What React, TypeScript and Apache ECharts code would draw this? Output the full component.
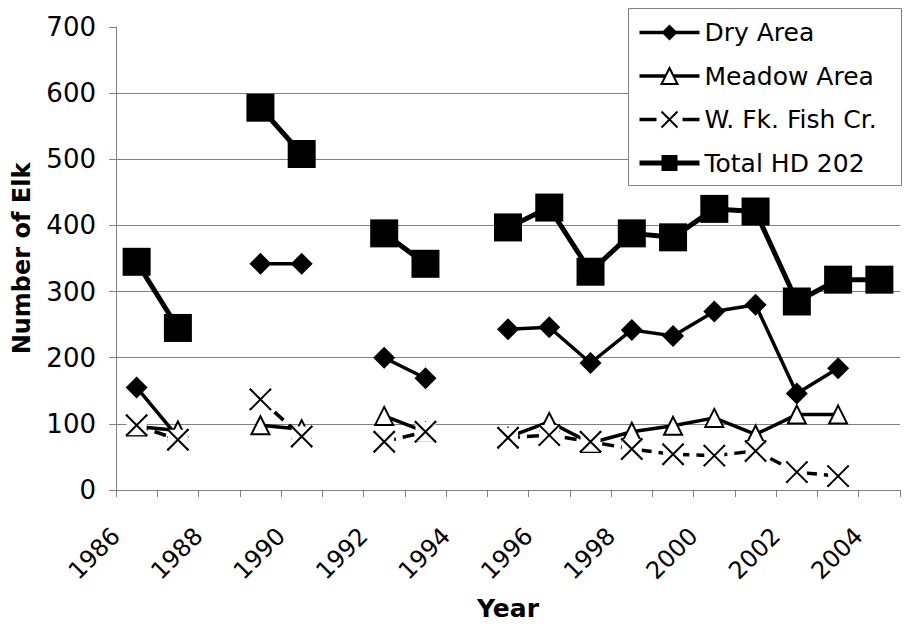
import React, { useEffect, useRef } from "react";
import * as echarts from "echarts";

// Elk counts by survey year for hunting district 202 and its sub-areas.
const years = [
  1986, 1987, 1988, 1989, 1990, 1991, 1992, 1993, 1994, 1995, 1996, 1997,
  1998, 1999, 2000, 2001, 2002, 2003, 2004,
];
const dryArea = [155, 80, null, 342, 342, null, 200, 169, null, 243, 246, 192, 242, 233, 270, 280, 146, 184, null];
const meadowArea = [96, 90, null, 98, 92, null, 112, 88, null, 80, 103, 71, 88, 97, 109, 84, 114, 114, null];
const wFkFishCr = [98, 76, null, 137, 81, null, 73, 88, null, 79, 83, 73, 62, 54, 52, 59, 27, 21, null];
const totalHD202 = [345, 245, null, 578, 508, null, 388, 342, null, 397, 427, 330, 388, 382, 425, 421, 285, 318, 318];

// Labelled years on the horizontal axis and values on the vertical axis.
const xTickLabels = [1986, 1988, 1990, 1992, 1994, 1996, 1998, 2000, 2002, 2004];
const yTickValues = [0, 100, 200, 300, 400, 500, 600, 700];

const seriesNames = ["Dry Area", "Meadow Area", "W. Fk. Fish Cr.", "Total HD 202"];

const FONT = "'DejaVu Sans', 'Liberation Sans', sans-serif";
const GRAY = "#808080";
const X_MARK = "path://M0,0L20,20M20,0L0,20";

// Each annual count sits in the middle of its year on the axis.
const yearPairs = (vals: (number | null)[]) =>
  years.map((yr, i) => [yr + 0.5, vals[i]]);

export default function App() {
  const ref = useRef<HTMLDivElement>(null);

  useEffect(() => {
    document.body.style.margin = "0";
    if (!ref.current) return;
    const chart = echarts.init(ref.current, undefined, { renderer: "svg" });

    const yStep = yTickValues[1] - yTickValues[0];

    chart.setOption({
      animation: false,
      backgroundColor: "#fff",
      grid: { left: 116, right: 7, top: 27, bottom: 145 },
      xAxis: {
        type: "value",
        min: years[0],
        max: years[years.length - 1] + 1,
        interval: 1,
        name: "Year",
        nameLocation: "middle",
        nameGap: 106,
        nameTextStyle: { fontFamily: FONT, fontSize: 25, fontWeight: "bold", color: "#000" },
        axisLine: { show: true, onZero: false, lineStyle: { color: GRAY, width: 1 } },
        axisTick: { show: true, inside: false, length: 7, lineStyle: { color: GRAY, width: 1 } },
        axisLabel: {
          rotate: 45,
          margin: 42,
          fontFamily: FONT,
          fontSize: 24,
          color: "#000",
          hideOverlap: false,
          formatter: (v: number) => (xTickLabels.includes(v) ? String(v) : ""),
        },
        splitLine: { show: false },
      },
      yAxis: {
        type: "value",
        min: yTickValues[0],
        max: yTickValues[yTickValues.length - 1],
        interval: yStep,
        name: "Number of Elk",
        nameLocation: "middle",
        nameRotate: 90,
        nameGap: 82,
        nameTextStyle: { fontFamily: FONT, fontSize: 24, fontWeight: "bold", color: "#000" },
        axisLine: { show: true, lineStyle: { color: GRAY, width: 1 } },
        axisTick: { show: true, inside: false, length: 7, lineStyle: { color: GRAY, width: 1 } },
        axisLabel: { fontFamily: FONT, fontSize: 26, color: "#000", margin: 20 },
        splitLine: { show: true, showMaxLine: false, lineStyle: { color: GRAY, width: 1 } },
      },
      legend: {
        data: [
          seriesNames[0],
          seriesNames[1],
          { name: seriesNames[2], lineStyle: { type: [17, 26, 17] } },
          seriesNames[3],
        ],
        orient: "vertical",
        left: 637,
        top: 20,
        padding: 0,
        itemWidth: 60,
        itemHeight: 20,
        itemGap: 18.5,
        selectedMode: false,
        z: 6,
        lineStyle: { width: "inherit" },
        textStyle: { fontFamily: FONT, fontSize: 25, color: "#000" },
      },
      graphic: [
        {
          type: "rect",
          z: 5,
          shape: { x: 628.5, y: 8.5, width: 273, height: 177 },
          style: { fill: "#fff", stroke: GRAY, lineWidth: 1 },
        },
      ],
      series: [
        {
          name: seriesNames[0],
          type: "line",
          data: yearPairs(dryArea),
          symbol: "diamond",
          symbolSize: 22,
          itemStyle: { color: "#000" },
          lineStyle: { color: "#000", width: 3.5 },
        },
        {
          name: seriesNames[1],
          type: "line",
          data: yearPairs(meadowArea),
          symbol: "triangle",
          symbolSize: 18,
          itemStyle: { color: "#fff", borderColor: "#000", borderWidth: 2 },
          lineStyle: { color: "#000", width: 3.5 },
        },
        {
          name: seriesNames[2],
          type: "line",
          data: yearPairs(wFkFishCr),
          symbol: X_MARK,
          symbolSize: 21,
          itemStyle: { color: "rgba(0,0,0,0)", borderColor: "#000", borderWidth: 2 },
          lineStyle: { color: "#000", width: 3.5, type: [12, 7] },
        },
        {
          // white marker backgrounds behind the crosses
          name: "wfk-backdrop",
          type: "line",
          data: yearPairs(wFkFishCr),
          symbol: "rect",
          symbolSize: 20,
          silent: true,
          itemStyle: { color: "#fff" },
          lineStyle: { opacity: 0 },
        },
        {
          name: "wfk-cross",
          type: "line",
          data: yearPairs(wFkFishCr),
          symbol: X_MARK,
          symbolSize: 21,
          silent: true,
          itemStyle: { color: "rgba(0,0,0,0)", borderColor: "#000", borderWidth: 2 },
          lineStyle: { opacity: 0 },
        },
        {
          name: seriesNames[3],
          type: "line",
          data: yearPairs(totalHD202),
          symbol: "rect",
          symbolSize: 28,
          itemStyle: { color: "#000" },
          lineStyle: { color: "#000", width: 5 },
        },
      ],
    });

    return () => chart.dispose();
  }, []);

  return <div ref={ref} style={{ width: 907, height: 635 }} />;
}
